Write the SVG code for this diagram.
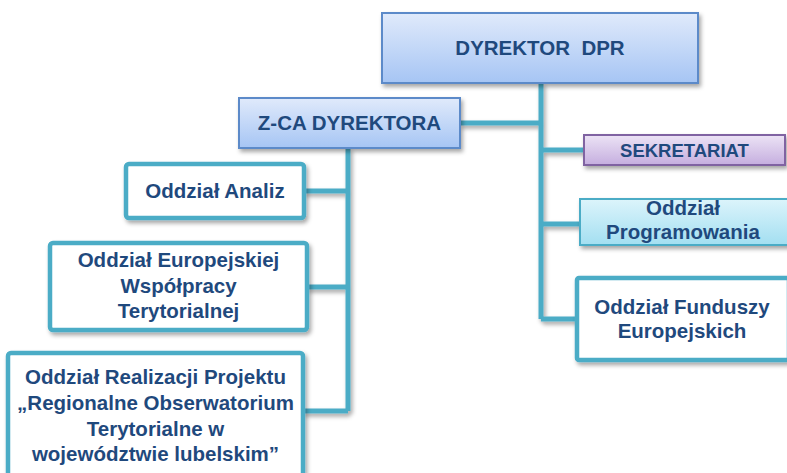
<svg xmlns="http://www.w3.org/2000/svg" width="787" height="473" viewBox="0 0 787 473">
<defs>
<linearGradient id="gBlue" x1="0" y1="0" x2="0" y2="1"><stop offset="0" stop-color="#e0eafb"/><stop offset="1" stop-color="#a6c5f4"/></linearGradient>
<linearGradient id="gPurple" x1="0" y1="0" x2="0" y2="1"><stop offset="0" stop-color="#ece3f5"/><stop offset="1" stop-color="#c5aedf"/></linearGradient>
<linearGradient id="gCyan" x1="0" y1="0" x2="0" y2="1"><stop offset="0" stop-color="#dcf4fb"/><stop offset="1" stop-color="#a3dff1"/></linearGradient>
<filter id="sh" x="-10%" y="-10%" width="130%" height="140%"><feDropShadow dx="2" dy="3" stdDeviation="2" flood-color="#000" flood-opacity="0.35"/></filter>
</defs>
<style>
text{font-family:"Liberation Sans",Arial,sans-serif;font-weight:bold;fill:#1f497d;text-anchor:middle;font-size:20.5px;white-space:pre}
.conn{stroke:#4bacc6;stroke-width:5;fill:none;filter:url(#sh)}
.blue{fill:url(#gBlue);stroke:#5b8ac9;stroke-width:2}
.purple{fill:url(#gPurple);stroke:#8064a2;stroke-width:2}
.cyan{fill:url(#gCyan);stroke:#4bacc6;stroke-width:2}
.white{fill:#fff;stroke:#4bacc6;stroke-width:4.5}
.box{filter:url(#sh)}
</style>
<rect width="787" height="473" fill="#fff"/>
<g id="connectors">
<path class="conn" d="M541 83 V319 M460 123 H541 M541 150 H584 M541 224 H580 M541 319 H577"/>
<path class="conn" d="M348 148 V411 M304 191 H348 M307 287 H348 M303 411 H348"/>
</g>
<g id="dyrektor"><rect class="blue box" x="382" y="13" width="316" height="70"/><text x="540" y="55" font-size="21" xml:space="preserve">DYREKTOR  DPR</text></g>
<g id="zca"><rect class="blue box" x="239" y="98" width="221" height="50"/><text x="349.5" y="130" font-size="21">Z-CA DYREKTORA</text></g>
<g id="sekretariat"><rect class="purple box" x="584" y="135" width="201" height="30"/><text x="684.5" y="157" style="font-size:18.5px">SEKRETARIAT</text></g>
<g id="programowania"><rect class="cyan box" x="580" y="199" width="210" height="46"/><text x="683" y="215">Oddział</text><text x="683" y="239">Programowania</text></g>
<g id="fundusze"><rect class="white box" x="577" y="278" width="212" height="82" rx="2"/><text x="682" y="314">Oddział Funduszy</text><text x="682" y="338">Europejskich</text></g>
<g id="analiz"><rect class="white box" x="126" y="164" width="178" height="54" rx="3"/><text x="215" y="198">Oddział Analiz</text></g>
<g id="europejskiej"><rect class="white box" x="50" y="243" width="257" height="87" rx="3"/><text x="178.5" y="267">Oddział Europejskiej</text><text x="178.5" y="293">Współpracy</text><text x="178.5" y="318">Terytorialnej</text></g>
<g id="realizacji"><rect class="white box" x="8" y="353" width="295" height="130" rx="3"/><text x="155.5" y="384">Oddział Realizacji Projektu</text><text x="155.5" y="410">„Regionalne Obserwatorium</text><text x="155.5" y="436">Terytorialne w</text><text x="155.5" y="461">województwie lubelskim”</text></g>
</svg>
